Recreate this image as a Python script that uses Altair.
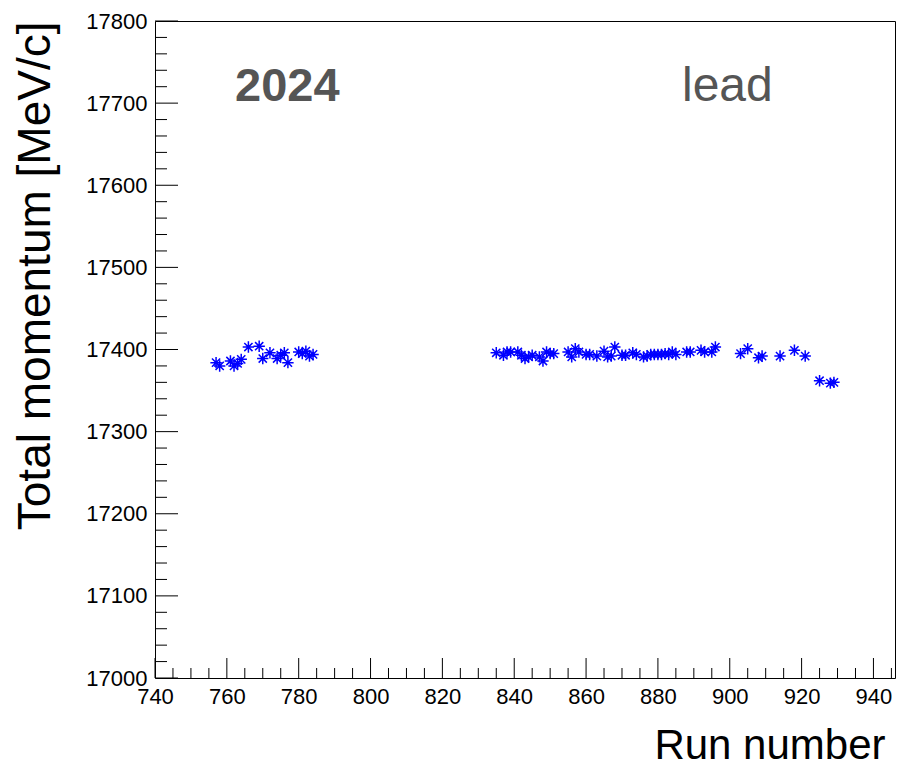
import altair as alt
import pandas as pd

# ---- data ----
runs = [757, 758, 761, 762, 763, 764, 766, 769, 770, 772, 774, 775, 776, 777,
        780, 781, 782, 783, 784,
        835, 837, 838, 839, 841, 842, 843, 844, 845, 847, 848, 849, 850, 851,
        855, 856, 857, 858, 860, 861, 863, 865, 866, 867, 868, 870, 871, 873,
        874, 876, 877, 878, 879, 880, 881, 882, 883, 884, 885, 888, 889, 892,
        893, 895, 896, 903, 905, 908, 909, 914, 918, 921, 925, 928, 929]
momentum = [17384, 17380, 17386, 17380, 17383, 17388, 17403, 17404, 17389, 17396,
            17389, 17393, 17396, 17384, 17397, 17395, 17398, 17392, 17394,
            17396, 17393, 17397, 17397, 17397, 17393, 17389, 17391, 17393, 17391,
            17386, 17397, 17395, 17395, 17397, 17391, 17401, 17397, 17394, 17394,
            17392, 17398, 17391, 17392, 17403, 17393, 17393, 17396, 17394, 17391,
            17392, 17394, 17394, 17394, 17394, 17395, 17394, 17397, 17394, 17397,
            17397, 17399, 17397, 17397, 17403, 17395, 17401, 17390, 17392, 17392,
            17399, 17392, 17362, 17359, 17360]

x_major = [740, 760, 780, 800, 820, 840, 860, 880, 900, 920, 940]
x_minor = [v for v in range(745, 946, 5) if v % 20 != 0]
y_major = [17000, 17100, 17200, 17300, 17400, 17500, 17600, 17700, 17800]
y_minor = [v for v in range(17020, 17800, 20) if v % 100 != 0]

X_DOMAIN = [740, 946]
Y_DOMAIN = [17000, 17800]

W, H = 740, 657
FONT = "Liberation Sans"

df = pd.DataFrame({"run": runs, "p": momentum})

xscale = alt.Scale(domain=X_DOMAIN, nice=False, zero=False)
yscale = alt.Scale(domain=Y_DOMAIN, nice=False, zero=False)

star = "M-1,0L1,0M0,-1L0,1M-0.72,-0.72L0.72,0.72M-0.72,0.72L0.72,-0.72"

points = alt.Chart(df).mark_point(
    shape=star, filled=False, color="#0000ff", size=130, strokeWidth=1.5, opacity=1
).encode(
    x=alt.X("run:Q", scale=xscale,
            axis=alt.Axis(values=x_major, format="d", ticks=False, grid=False,
                          domain=False,
                          labelFont=FONT, labelFontSize=22, labelColor="#000000",
                          labelPadding=8, labelFlush=False,
                          title="Run number", titleFont=FONT, titleFontSize=42,
                          titleFontWeight="normal", titleColor="#000000",
                          titleX=730, titleY=80, titleAlign="right",
                          titleBaseline="alphabetic", titleAnchor="end")),
    y=alt.Y("p:Q", scale=yscale,
            axis=alt.Axis(values=y_major, format="d", ticks=False, grid=False,
                          domain=False,
                          labelFont=FONT, labelFontSize=22, labelColor="#000000",
                          labelPadding=8, labelFlush=False,
                          title="Total momentum [MeV/c]", titleFont=FONT,
                          titleFontSize=46, titleFontWeight="normal",
                          titleColor="#000000", titleAngle=-90,
                          titleX=-120, titleY=0, titleAlign="right",
                          titleBaseline="middle")),
)

def xticks(vals, length):
    return alt.Chart(pd.DataFrame({"run": vals})).mark_rule(
        color="#000000", strokeWidth=1
    ).encode(
        x=alt.X("run:Q", scale=xscale),
        y=alt.value(H), y2=alt.value(H - length),
    )

def yticks(vals, length):
    return alt.Chart(pd.DataFrame({"p": vals})).mark_rule(
        color="#000000", strokeWidth=1
    ).encode(
        y=alt.Y("p:Q", scale=yscale),
        x=alt.value(0), x2=alt.value(length),
    )

label_2024 = alt.Chart(pd.DataFrame({"s": ["2024"]})).mark_text(
    font=FONT, fontSize=47, fontWeight="bold", color="#555555",
    align="left", baseline="alphabetic"
).encode(text="s:N", x=alt.value(80), y=alt.value(80))

label_lead = alt.Chart(pd.DataFrame({"s": ["lead"]})).mark_text(
    font=FONT, fontSize=48, color="#555555",
    align="left", baseline="alphabetic"
).encode(text="s:N", x=alt.value(527), y=alt.value(80))

chart = alt.layer(
    points,
    xticks(x_minor, 10), xticks(x_major, 20),
    yticks(y_minor, 12), yticks(y_major, 23),
    label_2024, label_lead,
).properties(
    width=W, height=H,
    autosize=alt.AutoSizeParams(type="none"),
    padding={"left": 155, "top": 21, "right": 2, "bottom": 89},
    background="#ffffff",
).configure_view(
    stroke="#000000", strokeWidth=1
)

chart.save("out.html", embed_options={"renderer": "svg", "actions": False})
